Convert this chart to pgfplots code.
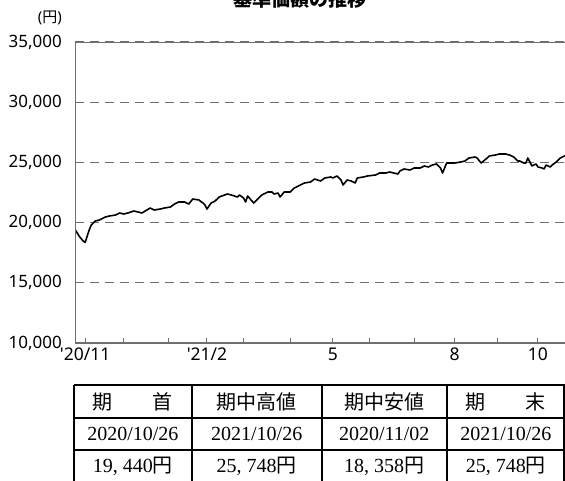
\documentclass[border=0pt]{standalone}
\usepackage{pgfplots}
\pgfplotsset{compat=1.18}
\usepackage{fontspec}
\setmainfont{Noto Sans}
\newfontfamily\lat{Noto Sans}
\newfontfamily\cjk{Noto Sans CJK JP}
\newfontfamily\ser{Liberation Serif}
\definecolor{axgray}{HTML}{6E6E6E}
\begin{document}
\begin{tikzpicture}[x=1pt,y=1pt]
\useasboundingbox (0,0) rectangle (565,-480);
\node[anchor=base, font=\cjk\bfseries\fontsize{19}{19}\selectfont, inner sep=0] at (300,-6) {基準価額の推移};
\node[anchor=east, inner sep=0] at (62,-18) {\fontsize{15}{15}\selectfont{\lat(}{\cjk 円}{\lat)}};
\begin{axis}[
  at={(75pt,-343pt)}, anchor=south west,
  scale only axis, width=490pt, height=301pt,
  xmin=0, xmax=241.3, ymin=10000, ymax=35000,
  axis line style={draw=none},
  ytick={10000,15000,20000,25000,30000,35000},
  ymajorgrids,
  major grid style={axgray, line width=1.2pt, dash pattern=on 9pt off 6pt},
  ytick style={draw=none},
  xtick={5,24,46,65,83,106,127,145,167,187,208,228},
  xticklabels={'20/11,{},{},'21/2,{},{},5,{},{},8,{},10},
  xtick pos=bottom,
  tick align=inside,
  major tick length=5pt,
  xtick style={axgray, line width=1pt},
  /pgf/number format/assume math mode=true,
  /pgf/number format/1000 sep={,},
  scaled y ticks=false,
  yticklabel style={font=\lat\fontsize{17}{17}\selectfont, anchor=east, inner sep=0pt, xshift=-13pt},
  xticklabel style={font=\lat\fontsize{17.5}{17.5}\selectfont, anchor=north, inner sep=0pt, yshift=-5pt},
  clip=true,
]
\addplot[black, line width=1.6pt, line join=round] coordinates {
(0,19440) (2,18887) (4,18472) (5,18358) (7,19386) (8,19801) (10,20133) (12,20216)
(15,20466) (17,20549) (20,20632) (22,20798) (24,20715) (26,20798) (29,20964) (31,20881)
(33,20798) (37,21213) (39,21047) (42,21130) (44,21213) (47,21296) (49,21545) (51,21711)
(54,21711) (56,21545) (58,21961) (61,21878) (63,21628) (64,21462) (65,21130) (67,21628)
(69,21795) (71,22127) (75,22376) (77,22293) (80,22127) (81,22293) (83,22044) (84,21711)
(85,22210) (88,21628) (90,21961) (92,22293) (95,22542) (97,22542) (98,22376) (100,22459)
(101,22127) (103,22542) (106,22542) (108,22874) (111,23123) (113,23290) (116,23373)
(118,23622) (121,23456) (123,23705) (126,23788) (127,23705) (129,23871) (131,23539)
(132,23123) (134,23539) (136,23456) (138,23290) (139,23705) (142,23788) (144,23871)
(148,23954) (150,24120) (153,24120) (155,24203) (157,24120) (159,24037) (160,24286)
(162,24452) (165,24369) (167,24536) (170,24536) (172,24702) (174,24619) (176,24785)
(178,24868) (180,24536) (181,24120) (183,24951) (185,24951) (187,24951) (190,25034)
(192,25117) (194,25366) (197,25449) (198,25366) (200,24951) (203,25366) (204,25532)
(207,25615) (209,25698) (212,25698) (214,25615) (216,25449) (218,25117) (219,25117)
(221,24951) (222,24951) (223,25366) (224,25034) (225,24702) (227,24868) (228,24619)
(230,24536) (231,24452) (232,24785) (234,24619) (235,24785) (237,25034) (239,25366)
(240,25449) (242,25615) (245,25748)
};
\draw[axgray, line width=1.2pt] (rel axis cs:1,1) -- (rel axis cs:0,1) -- (rel axis cs:0,0) -- (rel axis cs:1,0);
\end{axis}
% table
\draw[line width=1.6pt] (74,-385) -- (564,-385) -- (564,-490);
\draw[line width=1.6pt] (74,-385) -- (74,-490);
\draw[line width=1.6pt] (74,-418) -- (564,-418);
\draw[line width=1.6pt] (74,-450) -- (564,-450);
\draw[line width=1.6pt] (74,-483) -- (564,-483);
\foreach \xx in {191.7,321.7,446.7} \draw[line width=1.6pt] (\xx,-385) -- (\xx,-490);
\begin{scope}[every node/.style={inner sep=0pt, font=\fontsize{20}{24}\selectfont}]
\node at (132.85,-401.5) {\cjk 期　　首};
\node at (256.7,-401.5) {\cjk 期中高値};
\node at (384.2,-401.5) {\cjk 期中安値};
\node at (505.85,-401.5) {\cjk 期　　末};
\node at (132.85,-434) {\ser 2020/10/26};
\node at (256.7,-434) {\ser 2021/10/26};
\node at (384.2,-434) {\ser 2020/11/02};
\node at (505.85,-434) {\ser 2021/10/26};
\node at (132.85,-466.5) {{\ser 19,\hspace{0.25em}440}{\cjk 円}};
\node at (256.7,-466.5) {{\ser 25,\hspace{0.25em}748}{\cjk 円}};
\node at (384.2,-466.5) {{\ser 18,\hspace{0.25em}358}{\cjk 円}};
\node at (505.85,-466.5) {{\ser 25,\hspace{0.25em}748}{\cjk 円}};
\end{scope}
\end{tikzpicture}
\end{document}
